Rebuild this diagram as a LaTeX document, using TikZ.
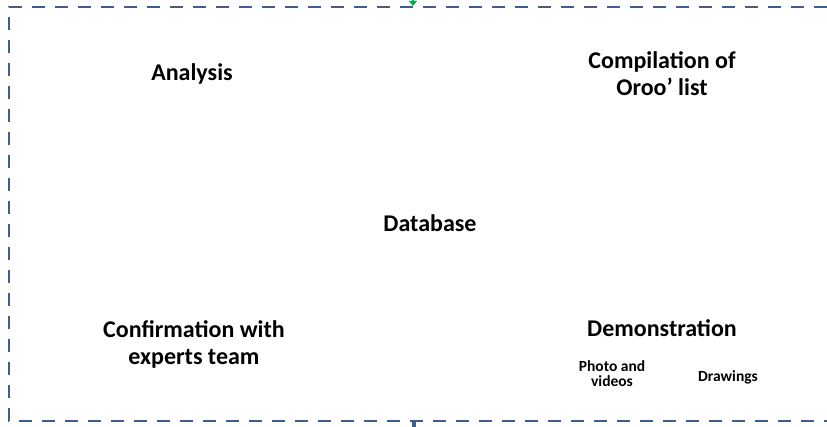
\documentclass[tikz,border=0pt]{standalone}
\usepackage{fontspec}
\setmainfont{Carlito}
\usetikzlibrary{arrows.meta}
\definecolor{boxblue}{RGB}{62,95,140}
\definecolor{arrgreen}{RGB}{0,176,80}
\begin{document}
\begin{tikzpicture}[x=1pt,y=-1pt,
  lbl/.style={font=\bfseries\fontsize{24}{27}\selectfont,align=center,inner sep=0pt},
  small/.style={font=\bfseries\fontsize{15.5}{15}\selectfont,align=center,inner sep=0pt},
  frame/.style={draw=boxblue,line width=2.6pt,dash pattern=on 13pt off 10pt}]
\useasboundingbox (0,0) rectangle (827,427);
\clip (0,0) rectangle (827,427);
\draw[frame] (850,7) -- (9,7) -- (9,421) -- (850,421);
\coordinate (gtop) at (413,-20);
\coordinate (gtip) at (413,6);
\draw[arrgreen,line width=1.5pt,-{Triangle[length=5pt,width=8pt]}] (gtop) -- (gtip);
\coordinate (btop) at (414,420);
\coordinate (bbot) at (414,440);
\draw[boxblue,line width=4.5pt] (btop) -- (bbot);
\node[lbl] (analysis) at (192,74) {Analysis};
\node[lbl] (compil) at (662,74) {Compilation of\\Oroo’ list};
\node[lbl] (db) at (430,223) {Database};
\node[lbl] (confirm) at (194,344) {Confirmation with\\experts team};
\node[lbl] (demo) at (662,328) {Demonstration};
\node[small] (photo) at (612,374) {Photo and\\videos};
\node[small] (draw) at (728,377) {Drawings};
\end{tikzpicture}
\end{document}
